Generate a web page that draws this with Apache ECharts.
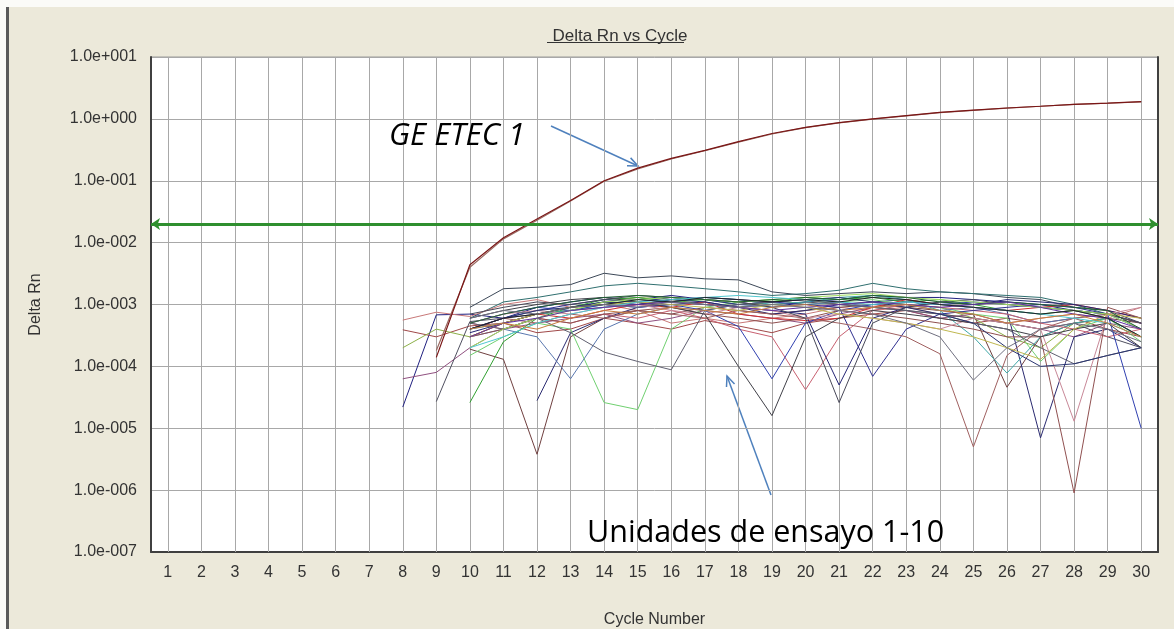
<!DOCTYPE html>
<html>
<head>
<meta charset="utf-8">
<script src="https://cdn.jsdelivr.net/npm/echarts@6/dist/echarts.min.js"></script>
<style>
  html, body { margin: 0; padding: 0; background: #fff; }
  #chart { width: 1174px; height: 629px; }
</style>
</head>
<body>
<div id="chart"></div>
<script>
// cycle axis labels
const cycles = ['1','2','3','4','5','6','7','8','9','10','11','12','13','14','15',
  '16','17','18','19','20','21','22','23','24','25','26','27','28','29','30'];

// threshold (Delta Rn)
const threshold = 0.0166;

// GE ETEC 1 amplification curves, from cycle 9
const ampStart = 9;
const ampA = [1.4e-4, 4.4e-3, 1.2e-2, 2.4e-2, 4.8e-2, 0.10, 0.16, 0.23, 0.31, 0.43, 0.58,
  0.73, 0.87, 1.0, 1.13, 1.27, 1.38, 1.5, 1.6, 1.72, 1.8, 1.9];
const ampB = [1.8e-4, 4.0e-3, 1.15e-2, 2.3e-2, 4.7e-2, 0.098, 0.155, 0.225, 0.305, 0.42, 0.57,
  0.72, 0.86, 0.99, 1.12, 1.26, 1.37, 1.49, 1.6, 1.71, 1.79, 1.88];

// test units 1-10 (replicate wells): first cycle and Delta Rn per cycle
const wellStart = [10, 10, 8, 8, 8, 8, 8, 9, 10, 12, 10, 10, 10, 10, 10, 10, 10,
  10, 10, 10, 10, 10, 10, 10, 10, 10, 10, 10, 10, 10, 10, 10, 10, 10];
const wellDeltaRn = [
  [9e-4,1.8e-3,1.9e-3,2.1e-3,3.2e-3,2.7e-3,2.9e-3,2.6e-3,2.5e-3,1.6e-3,1.4e-3,1.5e-3,1.6e-3,1.5e-3,1.6e-3,1.5e-3,1.3e-3,1.2e-3,9e-4,8e-4,5e-4],
  [6e-4,1.1e-3,1.3e-3,1.6e-3,2.0e-3,2.2e-3,2.0e-3,1.8e-3,1.6e-3,1.4e-3,1.5e-3,1.7e-3,2.2e-3,1.8e-3,1.6e-3,1.5e-3,1.4e-3,1.3e-3,1.0e-3,7e-4,4e-4],
  [2.2e-5,6.8e-4,7e-4,6e-4,9e-4,1.1e-3,1.3e-3,1.2e-3,1.4e-3,1.2e-3,1.1e-3,9e-4,1.1e-3,1.2e-3,1.4e-3,1.3e-3,1.3e-3,1.2e-3,1.1e-3,1.0e-3,8e-4,7e-4,5e-4],
  [5.6e-4,7.5e-4,6.4e-4,1.0e-3,1.2e-3,9e-4,1.0e-3,8e-4,5e-4,6e-4,5e-4,6e-4,7e-4,9e-4,8e-4,9e-4,7e-4,6e-4,5e-4,6e-4,7e-4,6e-4,9e-4],
  [3.9e-4,3e-4,4.5e-4,5e-4,3.5e-4,4e-4,6e-4,5e-4,4e-4,5.5e-4,4.5e-4,3.5e-4,5e-4,6e-4,7e-4,8e-4,6e-4,5e-4,6e-4,5e-4,6e-4,4e-4,3e-4],
  [2e-4,4e-4,3e-4,5e-4,7e-4,8e-4,1.1e-3,1.3e-3,1.2e-3,1.0e-3,9e-4,1.1e-3,1.2e-3,1.0e-3,1.1e-3,1.0e-3,9e-4,6e-4,3e-4,2e-4,5e-4,6e-4,3e-4],
  [6.3e-5,8e-5,2e-4,4e-4,5e-4,6e-4,7e-4,5e-4,6e-4,8e-4,7e-4,6e-4,5e-4,7e-4,9e-4,8e-4,6e-4,7e-4,5e-4,4e-4,3e-4,5e-4,4e-4],
  [2.7e-5,5.3e-4,6e-4,7e-4,8e-4,9e-4,1.0e-3,1.1e-3,1.0e-3,9e-4,1.0e-3,1.1e-3,1.0e-3,9e-4,8e-4,7e-4,6e-4,5e-4,4e-4,5e-4,3e-4,2e-4],
  [1.9e-4,1.3e-4,3.8e-6,3e-4,6e-4,8e-4,7e-4,9e-4,8e-4,7e-4,8e-4,9e-4,1.0e-3,9e-4,8e-4,7e-4,4.6e-5,3e-4,5e-4,6e-4,5e-4],
  [2.8e-5,3.5e-4,6e-4,9e-4,1.0e-3,1.1e-3,9e-4,7e-4,8e-4,1.0e-3,1.1e-3,1.2e-3,1.0e-3,9e-4,8e-4,7e-6,3e-4,4e-4,2e-4],
  [1.5e-4,3e-4,5e-4,4e-4,2.6e-5,2e-5,4e-4,9e-4,1.1e-3,1.2e-3,1.0e-3,1.1e-3,1.2e-3,1.0e-3,9e-4,7e-4,6e-4,1.2e-4,4e-4,6e-4,2.5e-4],
  [2.6e-5,2.5e-4,6e-4,9e-4,1.2e-3,1.3e-3,1.1e-3,1.2e-3,1.0e-3,1.1e-3,1.3e-3,1.2e-3,1.3e-3,1.1e-3,1.2e-3,1.0e-3,8e-4,7e-4,8e-4,6e-4,3e-4],
  [3e-4,4e-4,3e-4,6.3e-5,4e-4,7e-4,9e-4,8e-4,1.0e-3,9e-4,1.0e-3,1.1e-3,9e-4,1.0e-3,8e-4,9e-4,7e-4,5e-4,6e-4,7e-4,4e-4],
  [4e-4,5e-4,7e-4,8e-4,1.0e-3,1.2e-3,1.1e-3,1.3e-3,1.2e-3,1.0e-3,1.1e-3,1.3e-3,1.4e-3,1.2e-3,8e-4,3e-4,7.8e-5,3e-4,5e-4,6e-4,3e-4],
  [3e-4,5e-4,7e-4,6e-4,8e-4,1.0e-3,9e-4,1.1e-3,7e-4,6e-4,5.5e-4,6e-4,9e-4,1.2e-3,1.0e-3,9e-4,8e-4,9e-4,1.0e-3,8e-4,6e-4],
  [5e-4,4e-4,6e-4,5e-4,7e-4,6e-4,8e-4,6e-4,4e-4,3e-4,4.2e-5,3e-4,8e-4,1.0e-3,9e-4,8e-4,7e-4,5e-4,4e-4,3e-4,4e-4],
  [4e-4,6e-4,8e-4,1.0e-3,1.2e-3,1.1e-3,1.3e-3,1.2e-3,1.0e-3,1.1e-3,1.0e-3,9e-4,6.9e-5,4e-4,7e-4,8e-4,9e-4,1.0e-3,9e-4,7e-4,5e-4],
  [5e-4,7e-4,9e-4,8e-4,1.0e-3,9e-4,1.0e-3,8e-4,4.4e-4,6.3e-5,5e-4,8e-4,1.0e-3,1.1e-3,1.0e-3,1.1e-3,1.0e-3,9e-4,8e-4,7e-4,1e-5],
  [3.5e-4,5e-4,7e-4,9e-4,1.1e-3,1.0e-3,1.2e-3,1.1e-3,9e-4,8e-4,7e-4,5e-5,6e-4,9e-4,1.1e-3,1.0e-3,1.2e-3,1.1e-3,1.0e-3,8e-4,6e-4],
  [4e-4,6e-4,5e-4,7e-4,6e-4,8e-4,7e-4,6e-4,8e-4,7e-4,6e-4,5e-4,4e-4,3e-4,1.6e-4,5e-6,1.5e-4,4e-4,6e-4,7e-4,5e-4],
  [3e-4,4e-4,6e-4,5e-4,7e-4,8e-4,9e-4,7e-4,6e-4,5e-4,6e-4,8e-4,7e-4,6e-4,5e-4,4e-4,3e-4,3e-4,9e-7,9e-4,6e-4],
  [5e-4,7e-4,8e-4,7e-4,9e-4,1.0e-3,8e-4,7e-4,9e-4,8e-4,6e-4,7e-4,6e-4,5e-4,4e-4,6e-4,5e-4,4e-4,1.3e-5,7e-4,9e-4],
  [6e-4,8e-4,1.0e-3,1.2e-3,1.3e-3,1.1e-3,9e-4,7e-4,1.0e-4,1.6e-5,3e-4,6e-4,8e-4,7e-4,6e-4,5e-4,4e-4,3e-4,4e-4,5e-4,2e-4],
  [5e-4,4e-4,6e-4,3.5e-4,1.7e-4,1.2e-4,8.8e-5,8e-4,1.0e-3,1.1e-3,1.2e-3,1.0e-3,9e-4,8e-4,7e-4,5e-4,4e-4,2e-4,1.1e-4,1.5e-4,2e-4],
  [7e-4,9e-4,1.1e-3,1.0e-3,1.2e-3,1.4e-3,1.3e-3,1.2e-3,1.1e-3,9e-4,6e-4,2.6e-5,5e-4,9e-4,1.1e-3,1.2e-3,1.0e-3,9e-4,8e-4,7e-4,5e-4],
  [4e-4,6e-4,8e-4,9e-4,1.1e-3,1.0e-3,1.2e-3,1.3e-3,1.2e-3,1.1e-3,1.2e-3,1.3e-3,1.1e-3,9e-4,7e-4,5e-4,2e-4,1.0e-4,1.1e-4,1.5e-4,2e-4],
  [2e-4,4e-4,6e-4,8e-4,1.1e-3,1.2e-3,1.3e-3,1.2e-3,1.1e-3,1.2e-3,1.3e-3,1.4e-3,1.5e-3,1.3e-3,1.2e-3,1.1e-3,1.0e-3,9e-4,8e-4,7e-4,4e-4],
  [3e-4,5e-4,7e-4,9e-4,1.0e-3,1.1e-3,1.0e-3,9e-4,8e-4,1.0e-3,9e-4,7e-4,6e-4,5e-4,4e-4,3e-4,2e-4,1.3e-4,4e-4,7e-4,6e-4],
  [5e-4,7e-4,9e-4,1.1e-3,1.3e-3,1.4e-3,1.3e-3,1.2e-3,1.1e-3,1.2e-3,1.3e-3,1.2e-3,1.4e-3,1.3e-3,1.1e-3,1.0e-3,1.1e-3,1.0e-3,9e-4,8e-4,4e-4],
  [2e-4,3e-4,5e-4,7e-4,9e-4,1.1e-3,1.2e-3,1.3e-3,1.4e-3,1.3e-3,1.2e-3,1.1e-3,1.0e-3,1.1e-3,1.0e-3,9e-4,8e-4,7e-4,6e-4,5e-4,3e-4],
  [3e-4,5e-4,6e-4,8e-4,9e-4,1.0e-3,1.1e-3,1.0e-3,9e-4,8e-4,9e-4,1.0e-3,1.1e-3,1.0e-3,9e-4,1.0e-3,1.1e-3,9e-4,7e-4,6e-4,4e-4],
  [4e-4,6e-4,7e-4,9e-4,1.0e-3,1.2e-3,1.1e-3,1.3e-3,1.2e-3,1.1e-3,1.2e-3,1.1e-3,1.3e-3,1.2e-3,1.0e-3,9e-4,8e-4,7e-4,8e-4,6e-4,3e-4],
  [4e-4,5e-4,4e-4,6e-4,8e-4,7e-4,9e-4,8e-4,7e-4,9e-4,1.0e-3,8e-4,9e-4,1.0e-3,8e-4,7e-4,5e-4,6e-4,7e-4,5e-4,3e-4],
  [6e-4,8e-4,7e-4,9e-4,1.0e-3,9e-4,1.1e-3,1.0e-3,9e-4,1.0e-3,9e-4,8e-4,7e-4,5e-4,3e-4,6e-5,2e-4,4e-4,5e-4,4e-4,2.5e-4]
];

const wellColors = ['#3c4858','#2f6f6f','#202080','#c87878','#a04848','#8cb048','#905080','#505060',
  '#704040','#2a2a70','#70d070','#30a030','#5a78b0','#40a8a8','#d03030','#c86070','#303090',
  '#3040b0','#252575','#a06060','#905050','#c88898','#404048','#606070','#484858','#2a3570',
  '#a0e060','#c0b850','#206030','#50c8d0','#6030a0','#202028','#c88040','#707080'];

// pad a run that starts at a given cycle to the full 30 cycles
function toSeries(start, vals) {
  const out = [];
  for (let i = 1; i < start; i++) out.push(null);
  return out.concat(vals);
}

function expLabel(v) {
  const e = Math.round(Math.log10(v));
  const s = e < 0 ? '-' : '+';
  return '1.0e' + s + String(Math.abs(e)).padStart(3, '0');
}

// open-headed arrow drawn with graphic lines
function arrow(x1, y1, x2, y2, color) {
  const a = Math.atan2(y2 - y1, x2 - x1);
  const len = 11, spread = 0.4;
  const p1 = [x2 - len * Math.cos(a - spread), y2 - len * Math.sin(a - spread)];
  const p2 = [x2 - len * Math.cos(a + spread), y2 - len * Math.sin(a + spread)];
  return {
    type: 'group', z: 100,
    children: [
      { type: 'line', shape: { x1: x1, y1: y1, x2: x2, y2: y2 }, style: { stroke: color, lineWidth: 1.5 } },
      { type: 'polyline', shape: { points: [p1, [x2, y2], p2] }, style: { stroke: color, lineWidth: 1.5, fill: null } }
    ]
  };
}

const chart = echarts.init(document.getElementById('chart'));

const series = [];
wellDeltaRn.forEach(function (vals, i) {
  series.push({
    type: 'line', name: 'well' + (i + 1),
    data: toSeries(wellStart[i], vals),
    showSymbol: false, symbol: 'none',
    lineStyle: { width: 1, color: wellColors[i] },
    itemStyle: { color: wellColors[i] },
    z: 3
  });
});
series.push({
  type: 'line', name: 'GE ETEC 1 b',
  data: toSeries(ampStart, ampB),
  symbol: 'none', lineStyle: { width: 1.2, color: '#9a6a62' }, z: 4
});
series.push({
  type: 'line', name: 'GE ETEC 1 a',
  data: toSeries(ampStart, ampA),
  symbol: 'none', lineStyle: { width: 1.2, color: '#7a1616' }, z: 4,
  markLine: {
    silent: true, symbol: ['arrow', 'arrow'], symbolSize: [9, 9],
    label: { show: false },
    lineStyle: { color: '#2f8f2f', width: 3, type: 'solid' },
    data: [{ yAxis: threshold }]
  }
});

const labelFont = { fontFamily: 'Liberation Sans', fontSize: 16, color: '#333' };

const option = {
  animation: false,
  backgroundColor: '#ece9da',
  title: {
    text: 'Delta Rn vs Cycle',
    left: 615, top: 23, textAlign: 'center',
    textStyle: { fontFamily: 'Liberation Sans', fontSize: 17, fontWeight: 'normal', color: '#333' }
  },
  grid: {
    left: 151, right: 16, top: 57, bottom: 77, outerBoundsMode: 'none',
    show: true, backgroundColor: '#ffffff', borderColor: '#9a9a9a', borderWidth: 1
  },
  xAxis: {
    type: 'category', data: cycles, boundaryGap: true,
    name: 'Cycle Number', nameLocation: 'middle', nameGap: 60,
    nameTextStyle: labelFont,
    axisLine: { lineStyle: { color: '#404040', width: 2 } },
    axisTick: { show: true, alignWithLabel: true, interval: 0, inside: true, length: 495,
      lineStyle: { color: '#a8a8a8', width: 1 } },
    axisLabel: Object.assign({ interval: 0, margin: 13 }, labelFont),
    splitLine: { show: false }
  },
  yAxis: [{
    type: 'log', logBase: 10, min: 1e-7, max: 10, interval: 1,
    name: 'Delta Rn', nameLocation: 'middle', nameGap: 107, nameRotate: 90,
    nameTextStyle: labelFont,
    axisLine: { show: true, lineStyle: { color: '#404040', width: 2 } },
    axisTick: { show: false },
    axisLabel: Object.assign({ margin: 14, formatter: expLabel }, labelFont),
    splitLine: { show: true, lineStyle: { color: '#a8a8a8', width: 1 } }
  }, {
    type: 'log', logBase: 10, min: 1e-7, max: 10, position: 'right',
    axisLine: { show: true, lineStyle: { color: '#404040', width: 2 } },
    axisTick: { show: false }, axisLabel: { show: false }, splitLine: { show: false }
  }],
  graphic: [
    { type: 'rect', z: -10, shape: { x: 0, y: 0, width: 1174, height: 7 }, style: { fill: '#fbfbf8' } },
    { type: 'rect', z: -10, shape: { x: 0, y: 0, width: 6, height: 629 }, style: { fill: '#fbfbf8' } },
    { type: 'line', z: 10, shape: { x1: 7.5, y1: 7, x2: 7.5, y2: 629 }, style: { stroke: '#5a5a5a', lineWidth: 3 } },
    { type: 'line', z: 10, shape: { x1: 547, y1: 42.5, x2: 684, y2: 42.5 }, style: { stroke: '#333', lineWidth: 1 } },
    { type: 'text', z: 100, left: 389, top: 121,
      style: { text: 'GE ETEC 1', font: 'italic 31px "Open Sans"', fill: '#000' } },
    arrow(551, 126, 638, 166, '#4f81bd'),
    { type: 'text', z: 100, left: 587, top: 518,
      style: { text: 'Unidades de ensayo 1-10', font: '30.5px "Open Sans"', fill: '#000' } },
    arrow(771, 495, 727, 376, '#4f81bd')
  ],
  series: series
};

chart.setOption(option);
</script>
</body>
</html>
